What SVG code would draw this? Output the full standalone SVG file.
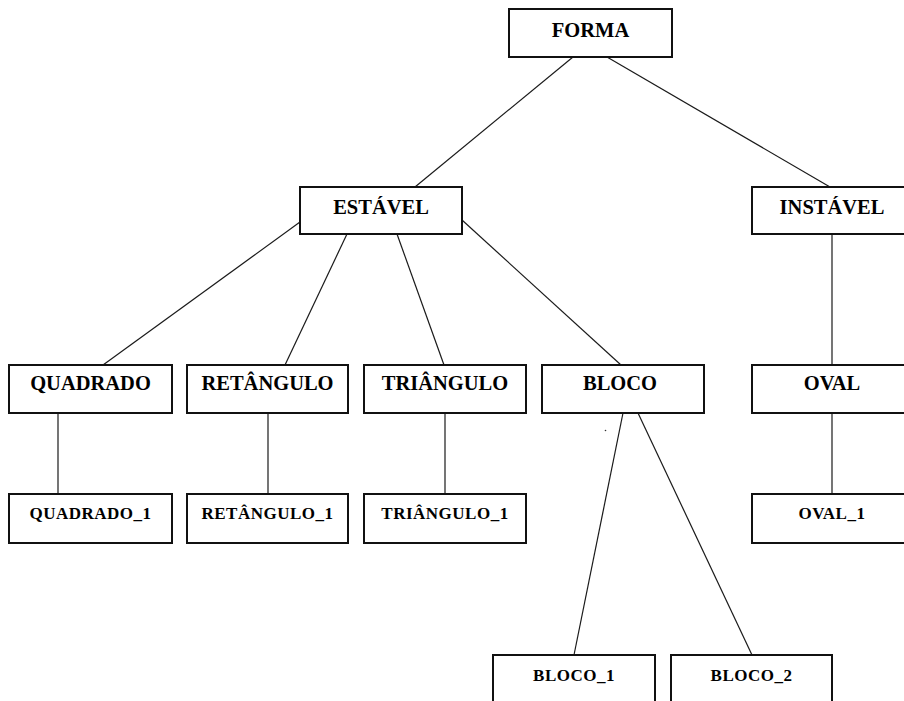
<svg xmlns="http://www.w3.org/2000/svg" width="904" height="701" viewBox="0 0 904 701">
  <style>
    .box { fill: #ffffff; stroke: #111111; stroke-width: 2; }
    .lbl { font-family: "Liberation Serif", "Times New Roman", serif; font-weight: bold; font-size: 20.5px; fill: #000000; text-anchor: middle; }
    .lbl2 { font-family: "Liberation Serif", "Times New Roman", serif; font-weight: bold; font-size: 17px; letter-spacing: 0.5px; fill: #000000; text-anchor: middle; }
    .edge { stroke: #1a1a1a; stroke-width: 1.2; fill: none; }
  </style>
  <rect width="904" height="701" fill="#ffffff"/>

  <!-- connectors -->
  <g id="connectors">
    <line class="edge" x1="573" y1="57" x2="415" y2="187"/>
    <line class="edge" x1="607" y1="57" x2="830" y2="187"/>
    <line class="edge" x1="300" y1="222" x2="103" y2="365"/>
    <line class="edge" x1="347" y1="234" x2="285" y2="365"/>
    <line class="edge" x1="397" y1="234" x2="444" y2="365"/>
    <line class="edge" x1="462" y1="220" x2="621" y2="365"/>
    <line class="edge" x1="832" y1="234" x2="832" y2="365"/>
    <line class="edge" x1="58" y1="413" x2="58" y2="494"/>
    <line class="edge" x1="268" y1="413" x2="268" y2="494"/>
    <line class="edge" x1="445" y1="413" x2="445" y2="494"/>
    <line class="edge" x1="623" y1="413" x2="574" y2="655"/>
    <line class="edge" x1="638" y1="413" x2="752" y2="655"/>
    <line class="edge" x1="832" y1="413" x2="832" y2="494"/>
    <circle cx="605.5" cy="430.5" r="0.8" fill="#333333"/>
  </g>

  <!-- root -->
  <g id="forma">
    <rect class="box" x="509" y="9" width="163" height="48"/>
    <text class="lbl" x="590.5" y="37">FORMA</text>
  </g>

  <!-- level 1 -->
  <g id="estavel">
    <rect class="box" x="300" y="187" width="162" height="47"/>
    <text class="lbl" x="381" y="214">ESTÁVEL</text>
  </g>
  <g id="instavel">
    <rect class="box" x="752" y="187" width="162" height="47"/>
    <text class="lbl" x="832" y="214">INSTÁVEL</text>
  </g>

  <!-- level 2 -->
  <g id="quadrado">
    <rect class="box" x="9" y="365" width="163" height="48"/>
    <text class="lbl" x="90.5" y="390">QUADRADO</text>
  </g>
  <g id="retangulo">
    <rect class="box" x="187" y="365" width="161" height="48"/>
    <text class="lbl" x="267.5" y="390">RETÂNGULO</text>
  </g>
  <g id="triangulo">
    <rect class="box" x="364" y="365" width="162" height="48"/>
    <text class="lbl" x="445" y="390">TRIÂNGULO</text>
  </g>
  <g id="bloco">
    <rect class="box" x="542" y="365" width="162" height="48"/>
    <text class="lbl" x="620" y="390">BLOCO</text>
  </g>
  <g id="oval">
    <rect class="box" x="752" y="365" width="162" height="48"/>
    <text class="lbl" x="832" y="390">OVAL</text>
  </g>

  <!-- level 3 -->
  <g id="quadrado_1">
    <rect class="box" x="9" y="494" width="163" height="49"/>
    <text class="lbl2" x="90.5" y="519">QUADRADO_1</text>
  </g>
  <g id="retangulo_1">
    <rect class="box" x="187" y="494" width="161" height="49"/>
    <text class="lbl2" x="267.5" y="519">RETÂNGULO_1</text>
  </g>
  <g id="triangulo_1">
    <rect class="box" x="364" y="494" width="162" height="49"/>
    <text class="lbl2" x="445" y="519">TRIÂNGULO_1</text>
  </g>
  <g id="oval_1">
    <rect class="box" x="752" y="494" width="162" height="49"/>
    <text class="lbl2" x="832" y="519">OVAL_1</text>
  </g>

  <!-- level 4 -->
  <g id="bloco_1">
    <rect class="box" x="493" y="655" width="162" height="60"/>
    <text class="lbl2" x="574" y="681">BLOCO_1</text>
  </g>
  <g id="bloco_2">
    <rect class="box" x="671" y="655" width="161" height="60"/>
    <text class="lbl2" x="751.5" y="681">BLOCO_2</text>
  </g>
</svg>
